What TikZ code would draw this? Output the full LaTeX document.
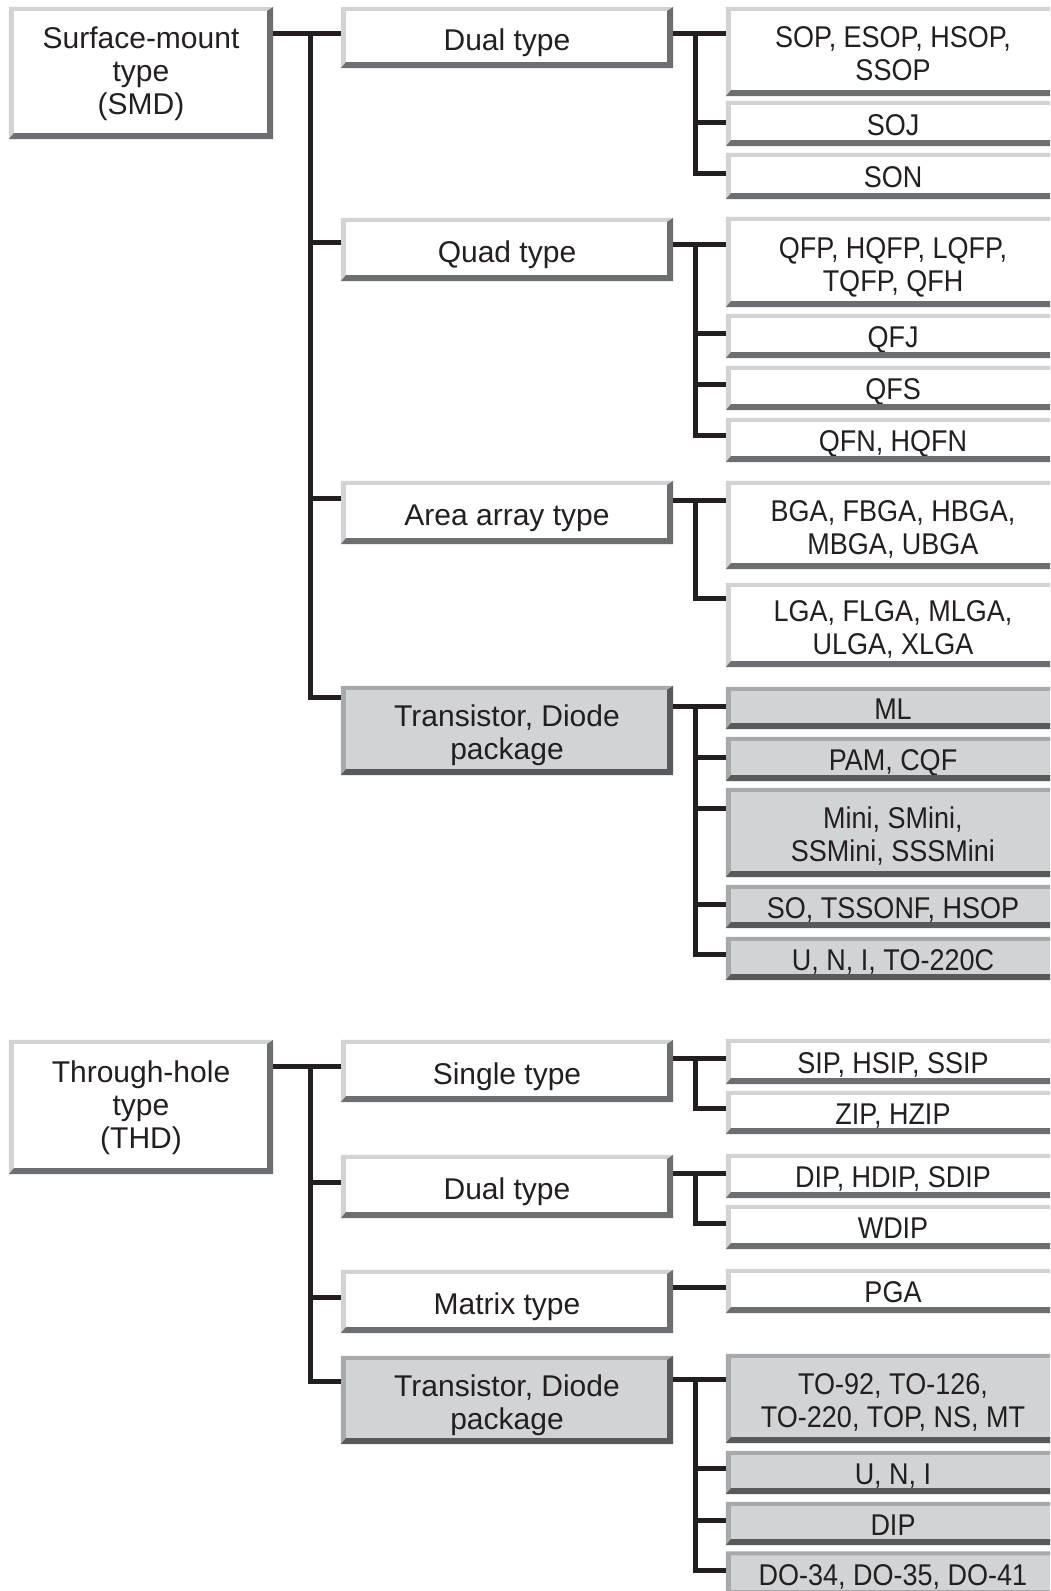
\documentclass[tikz,border=0pt]{standalone}
\usepackage{fontspec}
\setmainfont{Liberation Sans}
\newfontfamily\narrowfont{Liberation Sans}[FakeStretch=0.9]
\definecolor{ink}{HTML}{231F20}
\definecolor{wlight}{HTML}{D1D3D4}
\definecolor{wdark}{HTML}{6D6E71}
\definecolor{gface}{HTML}{D1D3D4}
\definecolor{glight}{HTML}{A7A9AC}
\definecolor{gdark}{HTML}{58595B}
\tikzset{
  box/.style={inner sep=0pt, align=center, text=ink, font=\fontsize{30}{33}\selectfont,
    text height=26pt, text depth=0pt},
  wbox/.style={box, fill=white},
  gbox/.style={box, fill=gface},
  lone/.style={minimum width=264pt, text height=88pt, text depth=6pt},
  ltwo/.style={minimum width=332pt},
  lthree/.style={minimum width=334pt, font=\narrowfont\fontsize{30}{33}\selectfont, text height=23pt},
  twol/.style={text height=58pt},
  link/.style={draw=ink, line width=5pt},
}
% raised edge of a box
\newcommand{\bevel}[3]{%
  \fill[#2] (#1.north west) -- (#1.north east) -- ([shift={(-6,4)}]#1.north east)
    -- ([shift={(5,4)}]#1.north west) -- ([shift={(5,-6)}]#1.south west) -- (#1.south west) -- cycle;
  \fill[#3] (#1.north east) -- (#1.south east) -- (#1.south west)
    -- ([shift={(5,-6)}]#1.south west) -- ([shift={(-6,-6)}]#1.south east) -- ([shift={(-6,4)}]#1.north east) -- cycle;}
\begin{document}
\begin{tikzpicture}[x=1pt,y=-1pt]
\clip (0,0) rectangle (1050,1591);
\fill[white] (0,0) rectangle (1050,1591);
% Surface-mount
\node[wbox, lone, minimum height=132pt] (smd) at (141,73) {Surface-mount\\type\\(SMD)};
\node[wbox, ltwo, minimum height=61pt] (dualsmd) at (507,37.5) {Dual type};
\node[wbox, ltwo, minimum height=63pt] (quad) at (507,249.5) {Quad type};
\node[wbox, ltwo, minimum height=63pt] (area) at (507,512.5) {Area array type};
\node[gbox, ltwo, twol, minimum height=89pt] (trsmd) at (507,730.5) {Transistor, Diode\\package};
\node[wbox, lthree, twol, minimum height=89pt] (sop) at (893,51.5) {SOP, ESOP, HSOP,\\SSOP};
\node[wbox, lthree, minimum height=45pt] (soj) at (893,123.5) {SOJ};
\node[wbox, lthree, minimum height=46pt] (son) at (893,176) {SON};
\node[wbox, lthree, twol, minimum height=90pt] (qfp) at (893,262) {QFP, HQFP, LQFP,\\TQFP, QFH};
\node[wbox, lthree, minimum height=44pt] (qfj) at (893,336) {QFJ};
\node[wbox, lthree, minimum height=44pt] (qfs) at (893,388) {QFS};
\node[wbox, lthree, minimum height=44pt] (qfn) at (893,440) {QFN, HQFN};
\node[wbox, lthree, twol, minimum height=88pt] (bga) at (893,525) {BGA, FBGA, HBGA,\\MBGA, UBGA};
\node[wbox, lthree, twol, minimum height=84pt] (lga) at (893,625) {LGA, FLGA, MLGA,\\ULGA, XLGA};
\node[gbox, lthree, minimum height=42pt] (ml) at (893,708) {ML};
\node[gbox, lthree, minimum height=44pt] (pam) at (893,759) {PAM, CQF};
\node[gbox, lthree, twol, minimum height=89pt] (mini) at (893,832.5) {Mini, SMini,\\SSMini, SSSMini};
\node[gbox, lthree, minimum height=43pt] (so) at (893,906.5) {SO, TSSONF, HSOP};
\node[gbox, lthree, minimum height=43pt] (utoc) at (893,958.5) {U, N, I, TO-220C};
% Through-hole
\node[wbox, lone, minimum height=134pt] (thd) at (141,1107) {Through-hole\\type\\(THD)};
\node[wbox, ltwo, minimum height=62pt] (single) at (507,1071) {Single type};
\node[wbox, ltwo, minimum height=63pt] (dualthd) at (507,1186.5) {Dual type};
\node[wbox, ltwo, minimum height=63pt] (matrix) at (507,1301.5) {Matrix type};
\node[gbox, ltwo, twol, minimum height=88pt] (trthd) at (507,1400) {Transistor, Diode\\package};
\node[wbox, lthree, minimum height=45pt] (sip) at (893,1061.5) {SIP, HSIP, SSIP};
\node[wbox, lthree, minimum height=43pt] (zip) at (893,1112.5) {ZIP, HZIP};
\node[wbox, lthree, minimum height=44pt] (dip) at (893,1176) {DIP, HDIP, SDIP};
\node[wbox, lthree, minimum height=44pt] (wdip) at (893,1227) {WDIP};
\node[wbox, lthree, minimum height=44pt] (pga) at (893,1291) {PGA};
\node[gbox, lthree, twol, minimum height=89pt] (tonine) at (893,1398.5) {TO-92, TO-126,\\TO-220, TOP, NS, MT};
\node[gbox, lthree, minimum height=43pt] (uni) at (893,1472.5) {U, N, I};
\node[gbox, lthree, minimum height=43pt] (dipt) at (893,1523.5) {DIP};
\node[gbox, lthree, minimum height=45pt] (dos) at (893,1574) {DO-34, DO-35, DO-41};
% Edges
\foreach \n in {smd,dualsmd,quad,area,sop,soj,son,qfp,qfj,qfs,qfn,bga,lga,thd,single,dualthd,matrix,sip,zip,dip,wdip,pga}
  \bevel{\n}{wlight}{wdark};
\foreach \n in {trsmd,ml,pam,mini,so,utoc,trthd,tonine,uni,dipt,dos}
  \bevel{\n}{glight}{gdark};
% SMD links
\draw[link] (smd.east |- 0,33) -- (dualsmd.west |- 0,33);
\draw[link] (310,33) |- (trsmd.west |- 0,697);
\draw[link] (310,242) -- (quad.west |- 0,242);
\draw[link] (310,498) -- (area.west |- 0,498);
\draw[link] (dualsmd.east |- 0,33) -- (sop.west |- 0,33);
\draw[link] (695,33) |- (son.west |- 0,173);
\draw[link] (695,122) -- (soj.west |- 0,122);
\draw[link] (quad.east |- 0,244) -- (qfp.west |- 0,244);
\draw[link] (695,244) |- (qfn.west |- 0,435);
\draw[link] (695,333) -- (qfj.west |- 0,333);
\draw[link] (695,384) -- (qfs.west |- 0,384);
\draw[link] (area.east |- 0,500) -- (bga.west |- 0,500);
\draw[link] (695,500) |- (lga.west |- 0,598);
\draw[link] (trsmd.east |- 0,706) -- (ml.west |- 0,706);
\draw[link] (695,706) |- (utoc.west |- 0,954);
\foreach \n/\y in {pam/757,mini/808,so/904}
  \draw[link] (695,\y) -- (\n.west |- 0,\y);
% THD links
\draw[link] (thd.east |- 0,1066) -- (single.west |- 0,1066);
\draw[link] (310,1066) |- (trthd.west |- 0,1381);
\draw[link] (310,1182) -- (dualthd.west |- 0,1182);
\draw[link] (310,1297) -- (matrix.west |- 0,1297);
\draw[link] (single.east |- 0,1058) -- (sip.west |- 0,1058);
\draw[link] (695,1058) |- (zip.west |- 0,1108);
\draw[link] (dualthd.east |- 0,1173) -- (dip.west |- 0,1173);
\draw[link] (695,1173) |- (wdip.west |- 0,1223);
\draw[link] (matrix.east |- 0,1287) -- (pga.west |- 0,1287);
\draw[link] (trthd.east |- 0,1379) -- (tonine.west |- 0,1379);
\draw[link] (695,1379) |- (dos.west |- 0,1570);
\foreach \n/\y in {uni/1468,dipt/1520}
  \draw[link] (695,\y) -- (\n.west |- 0,\y);
\end{tikzpicture}
\end{document}
